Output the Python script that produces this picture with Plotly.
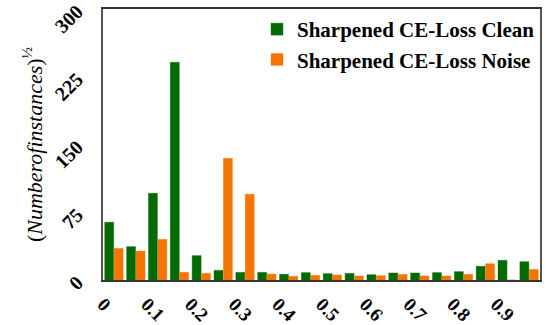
import plotly.graph_objects as go

bin_centers = [0.025 + 0.05 * i for i in range(20)]
clean = [64, 37, 96, 241, 27, 10.7, 8.5, 8.5, 6.4, 8.2, 7.1, 7.4, 5.9, 7.8, 7.8, 8.2, 9.3, 15.2, 21.8, 20.3]
noise = [35, 32, 45, 8.5, 7.4, 134.7, 95, 6.6, 4.1, 5.2, 5.6, 4.5, 4.8, 6.3, 4.5, 4.5, 6.3, 18.1, 0, 11.8]
x_ticks = [0, 0.1, 0.2, 0.3, 0.4, 0.5, 0.6, 0.7, 0.8, 0.9]
x_labels = ["0", "0.1", "0.2", "0.3", "0.4", "0.5", "0.6", "0.7", "0.8", "0.9"]
y_ticks = [0, 75, 150, 225, 300]

green = "#036B03"
orange = "#F57502"
serif = "Liberation Serif, Times New Roman, serif"

fig = go.Figure()
fig.add_trace(go.Bar(x=bin_centers, y=clean, name="<b>Sharpened CE-Loss Clean</b>",
                     legendgroup="a",
                     marker=dict(color=green, line=dict(color="rgba(3,107,3,0.35)", width=1))))
fig.add_trace(go.Bar(x=bin_centers, y=noise, name="<b>Sharpened CE-Loss Noise</b>",
                     legendgroup="b",
                     marker=dict(color=orange, line=dict(color="rgba(245,117,2,0.35)", width=1))))

fig.update_layout(
    width=546, height=325,
    margin=dict(l=103, r=6, t=9, b=45),
    paper_bgcolor="white", plot_bgcolor="white",
    barmode="group", bargap=0.14, bargroupgap=0.04,
    font=dict(family=serif, color="black"),
    showlegend=True,
    legend=dict(x=1.0, y=1.0, xanchor="right", yanchor="top",
                bgcolor="rgba(0,0,0,0)",
                font=dict(family=serif, size=21, color="black"),
                itemwidth=30, traceorder="grouped", tracegroupgap=0),
)
fig.update_xaxes(range=[0, 1], tickmode="array", tickvals=x_ticks,
                 ticktext=["<b>%s</b>" % t for t in x_labels],
                 tickangle=45, tickfont=dict(family=serif, size=19),
                 showgrid=False, zeroline=False, showline=True, linecolor="#333",
                 linewidth=1.5, mirror=True, ticks="", ticklabelstandoff=4,
                 automargin=False)
fig.update_yaxes(range=[0, 300], tickmode="array", tickvals=y_ticks,
                 ticktext=["<b>%d</b>" % t for t in y_ticks],
                 tickangle=-45, tickfont=dict(family=serif, size=20),
                 showgrid=False, zeroline=False, showline=True, linecolor="#555",
                 linewidth=1.5, mirror=True, ticks="", ticklabelstandoff=20,
                 automargin=False,
                 title=dict(text="(<i>Numberofinstances</i>)<sup>½</sup>",
                            font=dict(family=serif, size=22), standoff=2))

fig.write_html("out.html")
